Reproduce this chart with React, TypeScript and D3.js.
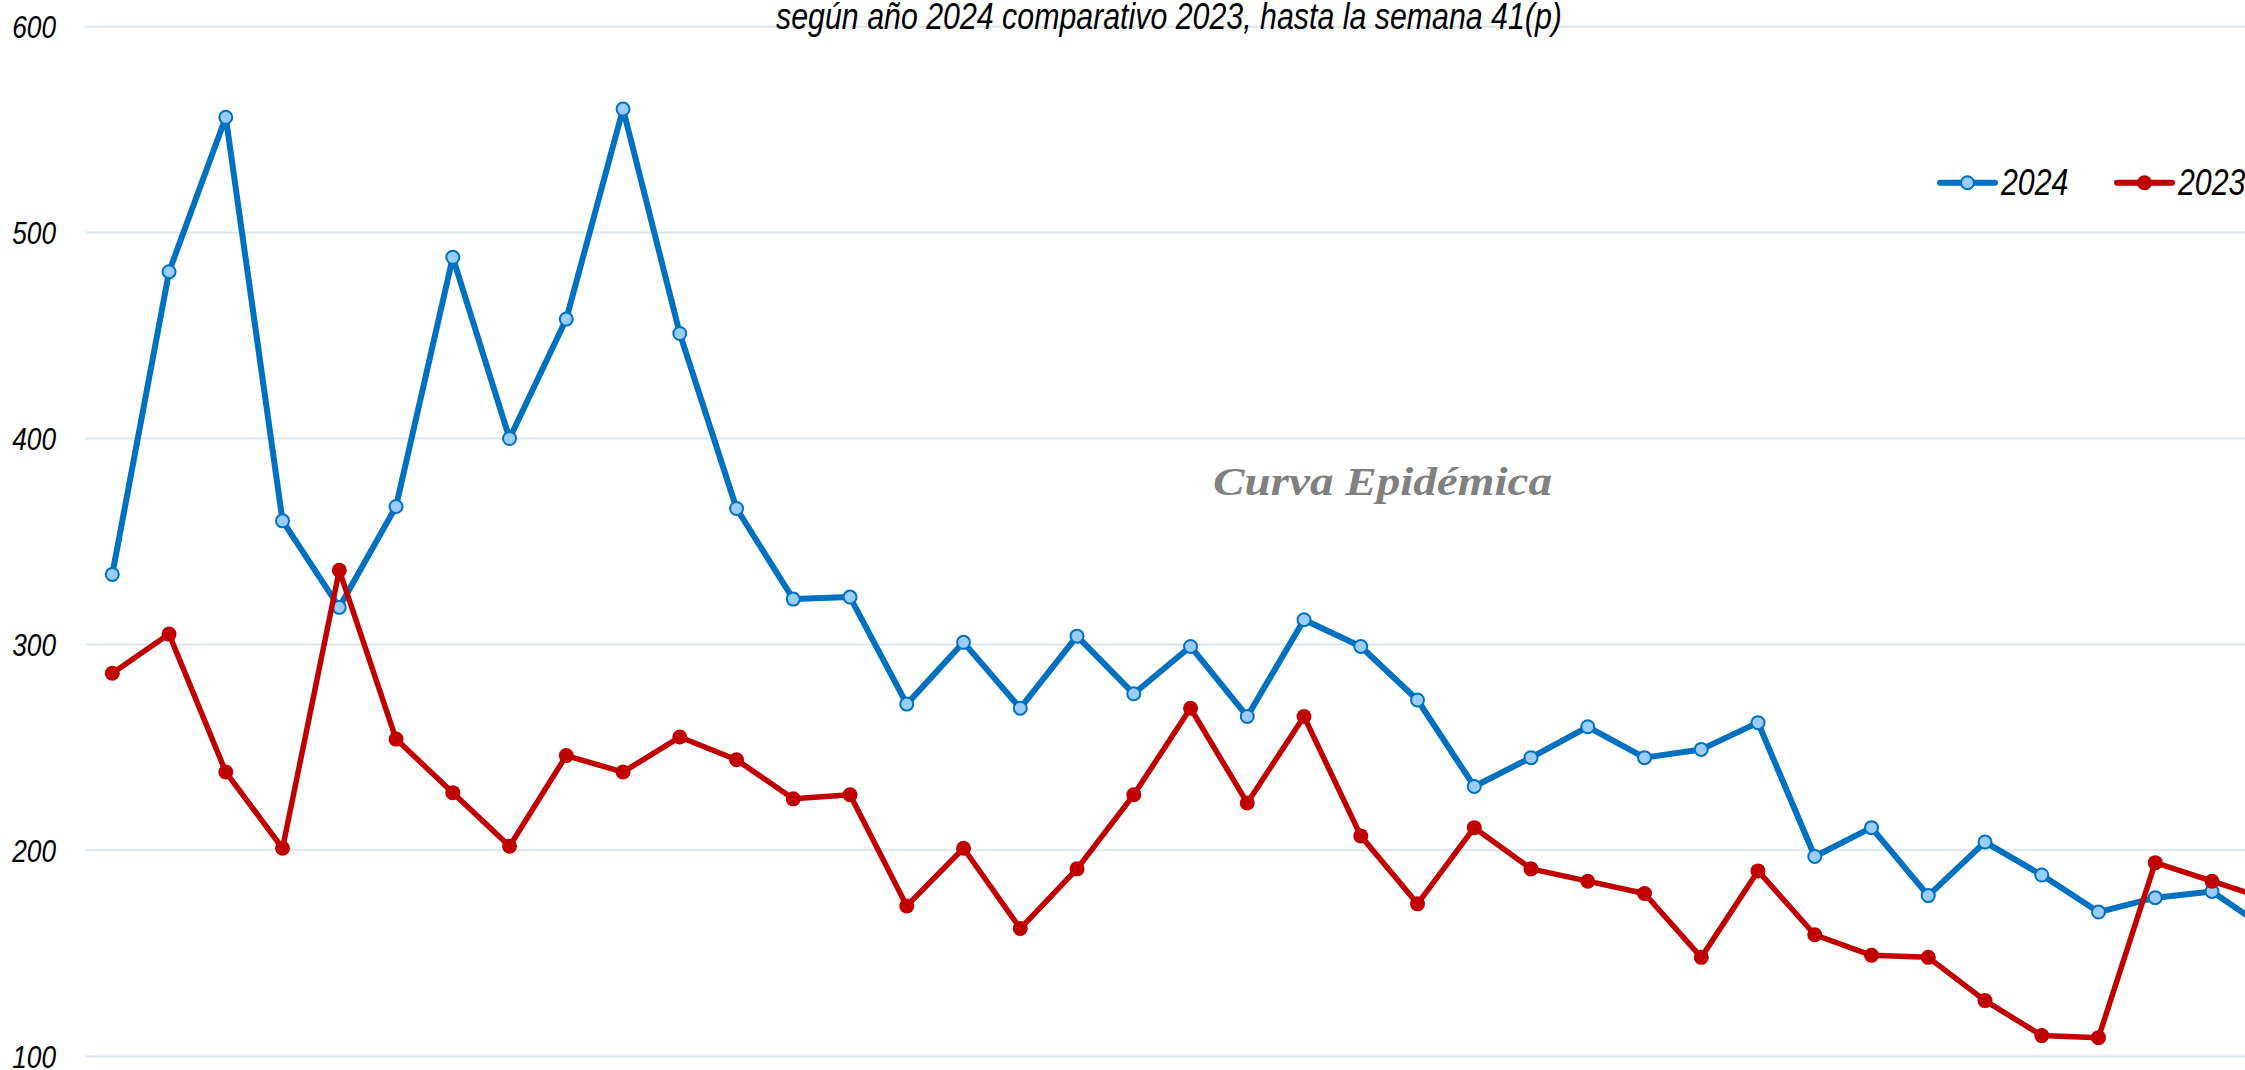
import React, { useRef, useEffect } from 'react'
import * as d3 from 'd3'

// semanas epidemiológicas (la última queda fuera del recorte)
const weeks = [
  1, 2, 3, 4, 5, 6, 7, 8, 9, 10, 11, 12, 13, 14, 15, 16, 17, 18, 19, 20,
  21, 22, 23, 24, 25, 26, 27, 28, 29, 30, 31, 32, 33, 34, 35, 36, 37, 38, 39,
]

const cases2024 = [
  334, 481, 556, 360, 318, 367, 488, 400, 458, 560, 451, 366, 322, 323, 271,
  301, 269, 304, 276, 299, 265, 312, 299, 273, 231, 245, 260, 245, 249, 262,
  197, 211, 178, 204, 188, 170, 177, 180, 161,
]

const cases2023 = [
  286, 305, 238, 201, 336, 254, 228, 202, 246, 238, 255, 244, 225, 227, 173,
  201, 162, 191, 227, 269, 223, 265, 207, 174, 211, 191, 185, 179, 148, 190,
  159, 149, 148, 127, 110, 109, 194, 185, 176,
]

const yTicks = [100, 200, 300, 400, 500, 600]

const seriesNames = ['2024', '2023']

const title = 'según año 2024 comparativo 2023, hasta la semana 41(p)'
const watermark = 'Curva Epidémica'

const W = 2245
const H = 1070
// no narrow font installed: squeeze Liberation Sans to look like Arial Narrow
const FONT = "'Liberation Sans', Arial, sans-serif"
const NARROW = 0.82

export default function App() {
  const ref = useRef<SVGSVGElement>(null)

  useEffect(() => {
    const svg = d3.select(ref.current)
    svg.selectAll('*').remove()

    const plotLeft = 85
    const x = d3.scaleLinear().domain([1, 38]).range([112.3, 2212])
    const y = d3.scaleLinear().domain([100, 600]).range([1056.2, 26.7])

    // gridlines
    svg
      .append('g')
      .selectAll('line')
      .data(yTicks)
      .enter()
      .append('line')
      .attr('x1', plotLeft)
      .attr('x2', W)
      .attr('y1', d => y(d))
      .attr('y2', d => y(d))
      .attr('stroke', '#dce6f2')
      .attr('stroke-width', 2)

    // y labels
    svg
      .append('g')
      .selectAll('text')
      .data(yTicks)
      .enter()
      .append('text')
      .attr('transform', d => `translate(56, ${y(d) + 11.5}) scale(${NARROW}, 1)`)
      .attr('text-anchor', 'end')
      .attr('font-family', FONT)
      .attr('font-style', 'italic')
      .attr('font-size', 32)
      .attr('fill', '#000')
      .text(d => d)

    // title
    svg
      .append('text')
      .attr('transform', `translate(1169, 29) scale(${NARROW}, 1)`)
      .attr('text-anchor', 'middle')
      .attr('font-family', FONT)
      .attr('font-style', 'italic')
      .attr('font-size', 37)
      .attr('fill', '#000')
      .text(title)

    // watermark
    svg
      .append('text')
      .attr('x', 1213)
      .attr('y', 495)
      .attr('font-family', "'URW Chancery L', 'Brush Script MT', 'Liberation Serif', serif")
      .attr('font-style', 'italic')
      .attr('font-weight', 'bold')
      .attr('font-size', 41)
      .attr('textLength', 339)
      .attr('lengthAdjust', 'spacingAndGlyphs')
      .attr('fill', '#808080')
      .text(watermark)

    const line = d3
      .line<number>()
      .x((d, i) => x(weeks[i]))
      .y(d => y(d))

    // 2024
    svg
      .append('path')
      .datum(cases2024)
      .attr('d', line)
      .attr('fill', 'none')
      .attr('stroke', '#0070c0')
      .attr('stroke-width', 6)
      .attr('stroke-linejoin', 'round')
    svg
      .append('g')
      .selectAll('circle')
      .data(cases2024)
      .enter()
      .append('circle')
      .attr('cx', (d, i) => x(weeks[i]))
      .attr('cy', d => y(d))
      .attr('r', 6.5)
      .attr('fill', '#99ccff')
      .attr('stroke', '#0070c0')
      .attr('stroke-width', 2)

    // 2023
    svg
      .append('path')
      .datum(cases2023)
      .attr('d', line)
      .attr('fill', 'none')
      .attr('stroke', '#c00000')
      .attr('stroke-width', 5.5)
      .attr('stroke-linejoin', 'round')
    svg
      .append('g')
      .selectAll('circle')
      .data(cases2023)
      .enter()
      .append('circle')
      .attr('cx', (d, i) => x(weeks[i]))
      .attr('cy', d => y(d))
      .attr('r', 7.5)
      .attr('fill', '#c00000')

    // legend
    const legend = [
      { name: seriesNames[0], x0: 1940, color: '#0070c0', fill: '#99ccff', r: 6.5 },
      { name: seriesNames[1], x0: 2117, color: '#c00000', fill: '#c00000', r: 7.5 },
    ]
    const lg = svg.append('g').selectAll('g').data(legend).enter().append('g')
    lg.append('line')
      .attr('x1', d => d.x0)
      .attr('x2', d => d.x0 + 55)
      .attr('y1', 182.7)
      .attr('y2', 182.7)
      .attr('stroke', d => d.color)
      .attr('stroke-width', 6)
      .attr('stroke-linecap', 'round')
    lg.append('circle')
      .attr('cx', d => d.x0 + 27.5)
      .attr('cy', 182.7)
      .attr('r', d => d.r)
      .attr('fill', d => d.fill)
      .attr('stroke', d => d.color)
      .attr('stroke-width', d => (d.fill === d.color ? 0 : 2))
    lg.append('text')
      .attr('transform', d => `translate(${d.x0 + 61}, 195) scale(${NARROW}, 1)`)
      .attr('font-family', FONT)
      .attr('font-style', 'italic')
      .attr('font-size', 37)
      .attr('fill', '#000')
      .text(d => d.name)
  }, [])

  return (
    <svg
      ref={ref}
      width={W}
      height={H}
      style={{ position: 'absolute', left: 0, top: 0, background: '#fff' }}
    ></svg>
  )
}
